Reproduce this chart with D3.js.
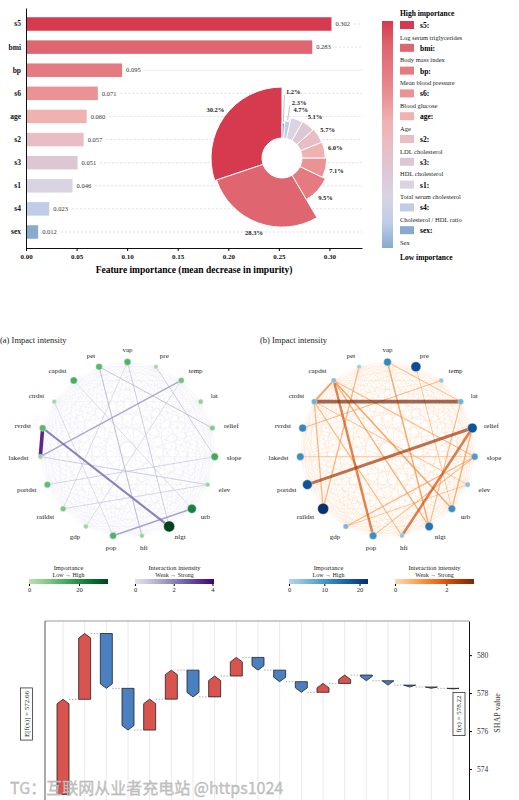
<!DOCTYPE html>
<html>
<head>
<meta charset="utf-8">
<script src="https://cdn.jsdelivr.net/npm/d3@7"></script>
<style>
  body { margin: 0; background: #fff; }
  svg { display: block; font-family: "Liberation Serif", "DejaVu Serif", serif; }
</style>
</head>
<body>
<div id="chart"></div>
<script>
// --------------------------------------
//  Data
// --------------------------------------

// feature importance (top panel)
const features = ["s5", "bmi", "bp", "s6", "age", "s2", "s3", "s1", "s4", "sex"];
const importance = [0.302, 0.283, 0.095, 0.071, 0.060, 0.057, 0.051, 0.046, 0.023, 0.012];
const sharePct = [30.2, 28.3, 9.5, 7.1, 6.0, 5.7, 5.1, 4.7, 2.3, 1.2];
const featureNames = ["Log serum triglycerides", "Body mass index", "Mean blood pressure",
  "Blood glucose", "Age", "LDL cholesterol", "HDL cholesterol", "Total serum cholesterol",
  "Cholesterol / HDL ratio", "Sex"];
const importanceTicks = [0, 0.05, 0.10, 0.15, 0.20, 0.25, 0.30];

// networks (middle panels)
const nodes = ["vap", "pre", "temp", "lat", "relief", "slope", "elev", "urb", "nlgt", "hfi",
  "pop", "gdp", "raildst", "portdst", "lakedst", "rvrdst", "ctrdst", "capdst", "pet"];
const nodeImpA = [13, 3, 9, 5, 7, 15, 4, 22, 31.6, 4, 13, 4, 8, 11, 4, 12, 3, 14, 12];
const nodeImpB = [12, 19, 3, 6, 18, 9, 4, 11, 14, 3, 11, 5, 22.4, 18, 11, 12, 6, 4, 2];
const edgesA = [
  ["rvrdst", "lakedst", 4.08], ["rvrdst", "nlgt", 2.3], ["lakedst", "temp", 1.4],
  ["pop", "urb", 1.5], ["pet", "hfi", 0.9], ["pet", "relief", 0.8], ["vap", "nlgt", 0.7],
  ["pre", "slope", 0.7], ["lakedst", "elev", 0.7], ["portdst", "slope", 0.6],
  ["raildst", "elev", 0.6], ["capdst", "urb", 0.5], ["ctrdst", "pop", 0.5],
  ["gdp", "temp", 0.5], ["vap", "raildst", 0.5]
];
const edgesB = [
  ["ctrdst", "lat", 3.08], ["relief", "portdst", 2.6], ["relief", "hfi", 2.1],
  ["capdst", "pop", 2.0], ["capdst", "ctrdst", 1.4], ["capdst", "urb", 1.2],
  ["capdst", "nlgt", 1.0], ["vap", "nlgt", 1.1], ["relief", "urb", 1.0],
  ["slope", "gdp", 0.9], ["temp", "rvrdst", 0.8], ["pet", "raildst", 0.9],
  ["ctrdst", "raildst", 0.9], ["ctrdst", "hfi", 0.8], ["lat", "nlgt", 0.8],
  ["vap", "lat", 0.7], ["capdst", "slope", 0.8], ["lakedst", "slope", 0.6],
  ["ctrdst", "elev", 0.7], ["pre", "urb", 0.6], ["slope", "pop", 0.7], ["elev", "gdp", 0.6]
];
const weakLink = 0.15;
const impTicksA = [0, 20], intTicksA = [0, 2, 4];
const impTicksB = [0, 10, 20], intTicksB = [0, 2];

// SHAP waterfall (bottom panel)
const baseValue = 572.66;
const shapValues = [5.01, 3.47, -2.89, -2.20, 1.63, 1.53, -1.41, 1.10, 0.98, -0.67,
  -0.61, -0.56, 0.47, 0.44, -0.30, -0.23, -0.10, -0.07, -0.03];
const shapTicks = [574, 576, 578, 580];

// --------------------------------------
//  Canvas
// --------------------------------------

const svg = d3.select("#chart")
  .append("svg")
    .attr("width", 519)
    .attr("height", 800);

const defs = svg.append("defs");

const palette = ["#d63a4e", "#df6570", "#e57a80", "#ea9294", "#f0b2b1",
  "#e8bec6", "#dec7d5", "#d9d3e3", "#bfcde6", "#86abce"];
const color = d3.scaleOrdinal().domain(features).range(palette);

// d3 axes set a sans-serif font on their group; drop it so the serif font applies
const serifAxis = g => g.attr("font-family", null).attr("font-size", null);

// --------------------------------------
//  Feature importance bars
// --------------------------------------

const x0 = d3.scaleLinear()
  .domain([0, d3.max(importance) * 1.1])
  .range([26, 362]);

const y0 = d3.scaleBand()
  .domain(features)
  .range([8, 248])
  .paddingInner(0.416)
  .paddingOuter(0.4);

const topChart = svg.append("g");

const rows = topChart.selectAll(".row")
  .data(features.map((f, i) => ({ f, v: importance[i] })))
  .join("g")
    .attr("class", "row");

rows.append("rect")
  .attr("x", x0(0))
  .attr("y", d => y0(d.f))
  .attr("width", d => x0(d.v) - x0(0))
  .attr("height", y0.bandwidth())
  .attr("fill", d => color(d.f));

rows.append("text")
  .attr("x", d => x0(d.v) + 4)
  .attr("y", d => y0(d.f) + y0.bandwidth() / 2)
  .attr("dy", "0.35em")
  .attr("font-size", 6.5)
  .attr("fill", "#333")
  .text(d => d.v.toFixed(3))
  .each(function(d) { d.labelEnd = x0(d.v) + 4 + this.getComputedTextLength(); });

rows.insert("line", "text")
  .attr("x1", d => d.labelEnd + 4)
  .attr("x2", x0.range()[1])
  .attr("y1", d => y0(d.f) + y0.bandwidth() / 2)
  .attr("y2", d => y0(d.f) + y0.bandwidth() / 2)
  .attr("stroke", "#c8c8c8")
  .attr("stroke-width", 0.6)
  .attr("stroke-dasharray", "2,2");

topChart.append("g")
  .attr("transform", `translate(${x0(0)},0)`)
  .call(d3.axisLeft(y0).tickSize(0).tickPadding(5))
  .call(serifAxis)
  .call(g => g.selectAll("text").attr("font-size", 7.5).attr("font-weight", "bold").attr("fill", "#111"))
  .call(g => g.select(".domain").attr("stroke", "#111").attr("stroke-width", 1));

topChart.append("g")
  .attr("transform", `translate(0,${y0.range()[1]})`)
  .call(d3.axisBottom(x0).tickValues(importanceTicks).tickFormat(d3.format(".2f")).tickSize(3).tickSizeOuter(0))
  .call(serifAxis)
  .call(g => g.selectAll("text").attr("font-size", 7).attr("font-weight", "bold").attr("fill", "#111"))
  .call(g => g.select(".domain").attr("stroke", "#111").attr("stroke-width", 1.2));

topChart.append("text")
  .attr("x", (x0.range()[0] + x0.range()[1]) / 2)
  .attr("y", 273)
  .attr("text-anchor", "middle")
  .attr("font-size", 9.5)
  .attr("font-weight", "bold")
  .text("Feature importance (mean decrease in impurity)");

// --------------------------------------
//  Donut with varying radius
// --------------------------------------

const pieData = features.map((f, i) => ({ f, pct: sharePct[i] }));
const pie = d3.pie().value(d => d.pct).sort((a, b) => a.pct - b.pct);
const radius = d3.scalePow().exponent(0.75)
  .domain(d3.extent(sharePct))
  .range([35, 71]);

const pieG = topChart.append("g").attr("transform", "translate(282,158)");
const arcs = pie(pieData);

pieG.append("circle").attr("r", 20).attr("fill", "#fff");

pieG.selectAll("path")
  .data(arcs)
  .join("path")
    .attr("d", d => d3.arc().innerRadius(20).outerRadius(radius(d.data.pct))(d))
    .attr("fill", d => color(d.data.f))
    .attr("stroke", "#fff")
    .attr("stroke-width", 1);

arcs.forEach(d => {
  const mid = (d.startAngle + d.endAngle) / 2;
  const outer = radius(d.data.pct);
  const small = d.data.pct < 3;
  // the two thinnest slices get leader lines, staggered outwards
  const r = small ? outer + (d.index === 0 ? 31 : 19) : outer + 11;
  const px = Math.sin(mid) * r, py = -Math.cos(mid) * r;
  if (small) {
    pieG.append("line")
      .attr("x1", Math.sin(mid) * (outer + 1)).attr("y1", -Math.cos(mid) * (outer + 1))
      .attr("x2", Math.sin(mid) * (r - 3)).attr("y2", -Math.cos(mid) * (r - 3))
      .attr("stroke", "#999").attr("stroke-width", 0.6);
  }
  pieG.append("text")
    .attr("x", small ? px + 1.5 : px)
    .attr("y", py)
    .attr("dy", "0.35em")
    .attr("text-anchor", small ? "start" : "middle")
    .attr("font-size", 6.5)
    .attr("font-weight", "bold")
    .attr("fill", "#222")
    .text(d.data.pct.toFixed(1) + "%");
});

// --------------------------------------
//  Legend
// --------------------------------------

const legend = svg.append("g");

const cbGrad = defs.append("linearGradient")
  .attr("id", "impGrad").attr("x1", 0).attr("x2", 0).attr("y1", 0).attr("y2", 1);
palette.forEach((c, i) => cbGrad.append("stop").attr("offset", i / (palette.length - 1)).attr("stop-color", c));

legend.append("rect")
  .attr("x", 382).attr("y", 21).attr("width", 11).attr("height", 227)
  .attr("fill", "url(#impGrad)");

legend.append("text")
  .attr("x", 400).attr("y", 16)
  .attr("font-size", 7.5).attr("font-weight", "bold")
  .text("High importance");

legend.append("text")
  .attr("x", 400).attr("y", 259.5)
  .attr("font-size", 7.5).attr("font-weight", "bold")
  .text("Low importance");

features.forEach((f, i) => {
  const yy = 21 + i * 22.8;
  legend.append("rect")
    .attr("x", 400).attr("y", yy).attr("width", 14).attr("height", 8)
    .attr("fill", color(f));
  legend.append("text")
    .attr("x", 420).attr("y", yy + 7)
    .attr("font-size", 7.5).attr("font-weight", "bold")
    .text(f + ":");
  legend.append("text")
    .attr("x", 400).attr("y", yy + 18.5)
    .attr("font-size", 6.5).attr("fill", "#222")
    .text(featureNames[i]);
});

// --------------------------------------
//  Interaction networks
// --------------------------------------

function drawNetwork(opts) {
  const g = svg.append("g");
  const cx = opts.cx, cy = 449.5, R = 87.5;
  const n = nodes.length;
  const angle = i => -Math.PI / 2 + i * 2 * Math.PI / n;
  const pos = nodes.map((d, i) => [cx + R * Math.cos(angle(i)), cy + R * Math.sin(angle(i))]);
  const idx = name => nodes.indexOf(name);

  const impMax = d3.max(opts.imp);
  const intMax = d3.max(opts.edges, d => d[2]);
  const nodeColor = v => opts.nodeInterp(0.3 + 0.7 * v / impMax);
  const edgeColor = v => opts.edgeInterp(0.25 + 0.75 * v / intMax);
  const nodeR = d3.scaleLinear().domain([0, impMax]).range([2, 5.5]);
  const edgeW = d3.scaleLinear().domain([0, intMax]).range([0.3, 3.6]);

  g.append("text")
    .attr("x", opts.titleX).attr("y", 343)
    .attr("font-size", 8.5).attr("fill", "#222")
    .text(opts.title);

  // weak background links between every pair
  const strong = new Set(opts.edges.map(e => [idx(e[0]), idx(e[1])].sort((a, b) => a - b).join("-")));
  const weak = [];
  for (let i = 0; i < n; i++) for (let j = i + 1; j < n; j++) {
    if (!strong.has(i + "-" + j)) weak.push([i, j]);
  }
  g.append("g").selectAll("line")
    .data(weak)
    .join("line")
      .attr("x1", d => pos[d[0]][0]).attr("y1", d => pos[d[0]][1])
      .attr("x2", d => pos[d[1]][0]).attr("y2", d => pos[d[1]][1])
      .attr("stroke", edgeColor(weakLink))
      .attr("stroke-width", 0.4)
      .attr("stroke-opacity", opts.meshOpacity);

  g.append("g").selectAll("line")
    .data(opts.edges.slice().sort((a, b) => a[2] - b[2]))
    .join("line")
      .attr("x1", d => pos[idx(d[0])][0]).attr("y1", d => pos[idx(d[0])][1])
      .attr("x2", d => pos[idx(d[1])][0]).attr("y2", d => pos[idx(d[1])][1])
      .attr("stroke", d => edgeColor(d[2]))
      .attr("stroke-width", d => edgeW(d[2]))
      .attr("stroke-opacity", opts.edgeOpacity);

  g.append("g").selectAll("circle")
    .data(nodes)
    .join("circle")
      .attr("cx", (d, i) => pos[i][0])
      .attr("cy", (d, i) => pos[i][1])
      .attr("r", (d, i) => nodeR(opts.imp[i]))
      .attr("fill", (d, i) => nodeColor(opts.imp[i]))
      .attr("stroke", "#fff")
      .attr("stroke-width", 0.4);

  g.append("g").selectAll("text")
    .data(nodes)
    .join("text")
      .attr("x", (d, i) => cx + (R + 12) * Math.cos(angle(i)))
      .attr("y", (d, i) => cy + (R + 12) * Math.sin(angle(i)))
      .attr("dy", "0.35em")
      .attr("text-anchor", (d, i) => {
        const c = Math.cos(angle(i));
        return c > 0.3 ? "start" : c < -0.3 ? "end" : "middle";
      })
      .attr("font-size", 7)
      .attr("fill", "#222")
      .text(d => d);

  // colour bars
  const bars = [
    { x: opts.cb1, max: impMax, interp: t => opts.nodeInterp(0.3 + 0.7 * t), ticks: opts.impTicks,
      title: "Importance", sub: "Low \u2192 High", id: opts.id + "imp" },
    { x: opts.cb2, max: intMax, interp: t => opts.edgeInterp(0.2 + 0.8 * t), ticks: opts.intTicks,
      title: "Interaction intensity", sub: "Weak \u2192 Strong", id: opts.id + "int" }
  ];
  bars.forEach(b => {
    const grad = defs.append("linearGradient").attr("id", b.id);
    d3.range(0, 1.01, 0.1).forEach(t => grad.append("stop").attr("offset", t).attr("stop-color", b.interp(t)));
    const s = d3.scaleLinear().domain([0, b.max]).range([b.x, b.x + 79]);
    g.append("rect")
      .attr("x", b.x).attr("y", 579).attr("width", 79).attr("height", 5)
      .attr("fill", `url(#${b.id})`);
    g.append("g")
      .attr("transform", "translate(0,584)")
      .call(d3.axisBottom(s).tickValues(b.ticks).tickFormat(d3.format("d")).tickSize(2).tickSizeOuter(0).tickPadding(1))
      .call(serifAxis)
      .call(a => a.select(".domain").remove())
      .call(a => a.selectAll("text").attr("font-size", 6.5).attr("fill", "#222"));
    g.append("text")
      .attr("x", b.x + 39.5).attr("y", 570)
      .attr("text-anchor", "middle").attr("font-size", 6.5).attr("fill", "#222")
      .text(b.title);
    g.append("text")
      .attr("x", b.x + 39.5).attr("y", 576.5)
      .attr("text-anchor", "middle").attr("font-size", 6).attr("fill", "#222")
      .text(b.sub);
  });
}

drawNetwork({
  id: "a", cx: 127.5, titleX: 0, title: "(a) Impact intensity",
  imp: nodeImpA, edges: edgesA,
  nodeInterp: d3.interpolateGreens, edgeInterp: d3.interpolatePurples,
  meshOpacity: 0.45, edgeOpacity: 0.85,
  cb1: 29, cb2: 135, impTicks: impTicksA, intTicks: intTicksA
});

drawNetwork({
  id: "b", cx: 387.5, titleX: 260, title: "(b) Impact intensity",
  imp: nodeImpB, edges: edgesB,
  nodeInterp: d3.interpolateBlues, edgeInterp: d3.interpolateOranges,
  meshOpacity: 0.55, edgeOpacity: 0.7,
  cb1: 289, cb2: 395, impTicks: impTicksB, intTicks: intTicksB
});

// --------------------------------------
//  SHAP waterfall
// --------------------------------------

const steps = [];
let run = baseValue;
shapValues.forEach((v, i) => { steps.push({ i, start: run, end: run + v, v }); run += v; });
const finalValue = run;

const xw = d3.scalePoint().domain(d3.range(shapValues.length)).range([63, 453]);
const yw = d3.scaleLinear().domain([572.1, 581.8]).range([805, 621]);
const wf = svg.append("g");

wf.selectAll(".grid")
  .data(xw.domain())
  .join("line")
    .attr("x1", d => xw(d)).attr("x2", d => xw(d))
    .attr("y1", 621).attr("y2", 800)
    .attr("stroke", "#e4e4e4").attr("stroke-width", 0.8);

wf.append("line").attr("x1", 45).attr("x2", 469).attr("y1", 621).attr("y2", 621)
  .attr("stroke", "#999").attr("stroke-width", 1);
wf.append("line").attr("x1", 45).attr("x2", 45).attr("y1", 621).attr("y2", 800)
  .attr("stroke", "#555").attr("stroke-width", 1);

wf.append("g")
  .attr("transform", "translate(469,0)")
  .call(d3.axisRight(yw).tickValues(shapTicks).tickSize(3).tickSizeOuter(0).tickPadding(5))
  .call(serifAxis)
  .call(g => g.select(".domain").attr("stroke", "#111").attr("stroke-width", 1))
  .call(g => g.selectAll("text").attr("font-size", 7.5).attr("fill", "#333"));

wf.append("text")
  .attr("transform", "translate(500,713) rotate(-90)")
  .attr("text-anchor", "middle").attr("font-size", 8).attr("fill", "#333")
  .text("SHAP value");

const bw = 12;
steps.forEach((s, k) => {
  const x = xw(s.i), ys = yw(s.start), ye = yw(s.end);
  const h = Math.abs(ye - ys);
  const t = Math.min(4.5, h);
  const pts = s.v >= 0
    ? [[x - bw / 2, ys], [x - bw / 2, ye + t], [x, ye], [x + bw / 2, ye + t], [x + bw / 2, ys]]
    : [[x - bw / 2, ys], [x - bw / 2, ye - t], [x, ye], [x + bw / 2, ye - t], [x + bw / 2, ys]];
  wf.append("path")
    .attr("d", d3.line()(pts) + "Z")
    .attr("fill", s.v >= 0 ? "#d9534f" : "#4a7fc0")
    .attr("stroke", "#222")
    .attr("stroke-width", 0.8)
    .attr("stroke-linejoin", "round");
  if (k < steps.length - 1) {
    wf.append("line")
      .attr("x1", x + bw / 2).attr("x2", xw(s.i + 1) - bw / 2)
      .attr("y1", ye).attr("y2", ye)
      .attr("stroke", "#777").attr("stroke-width", 0.6).attr("stroke-dasharray", "1.5,1.5");
  }
});

function valueBox(cx, cy, label) {
  const g = wf.append("g").attr("transform", `translate(${cx},${cy}) rotate(-90)`);
  const txt = g.append("text")
    .attr("text-anchor", "middle").attr("dy", "0.35em")
    .attr("font-size", 7).attr("fill", "#222")
    .text(label);
  const w = txt.node().getComputedTextLength() + 6;
  g.insert("rect", "text")
    .attr("x", -w / 2).attr("y", -6).attr("width", w).attr("height", 12)
    .attr("fill", "#fff").attr("stroke", "#333").attr("stroke-width", 0.8);
}
valueBox(26.5, 714, `E[f(x)] = ${baseValue.toFixed(2)}`);
valueBox(459, 714, `f(x) = ${finalValue.toFixed(2)}`);

// watermark
svg.append("text")
  .attr("x", 10).attr("y", 794)
  .attr("font-family", "'Noto Sans CJK SC', 'Noto Sans', sans-serif")
  .attr("font-size", 16)
  .attr("fill", "#c4c4c4")
  .attr("stroke", "#b0b0b0")
  .attr("stroke-width", 0.3)
  .text("TG\uff1a\u4e92\u8054\u7f51\u4ece\u4e1a\u8005\u5145\u7535\u7ad9 @https1024");
</script>
</body>
</html>
